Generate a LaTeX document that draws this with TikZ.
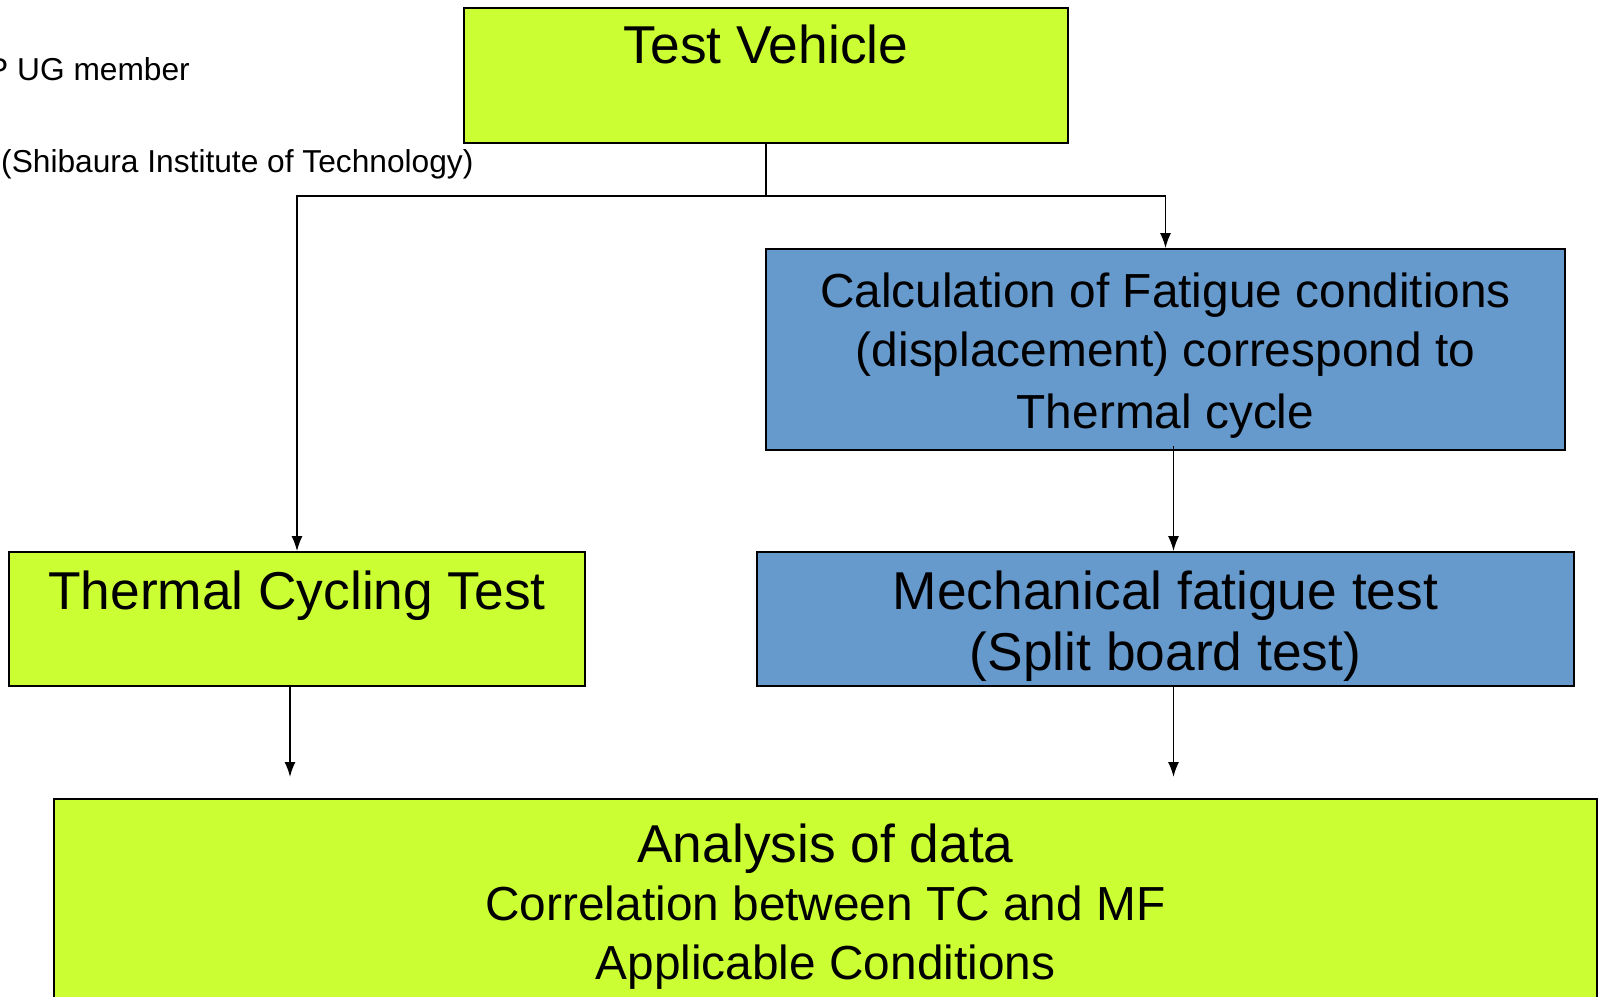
\documentclass[tikz,border=0pt]{standalone}
\usepackage{fontspec}
\setmainfont{Liberation Sans}
\usetikzlibrary{arrows.meta,calc}
\definecolor{limefill}{RGB}{204,255,51}
\definecolor{steelfill}{RGB}{102,153,204}
\begin{document}
\begin{tikzpicture}[x=1pt,y=-1pt,
  box/.style={draw=black, line width=1.8pt, rectangle, inner sep=0pt},
  link/.style={line width=1.6pt},
  conn/.style={line width=1.6pt, -{Latex[length=15pt,width=11pt]}},
  big/.style={font=\fontsize{53.3}{61}\selectfont, inner sep=0pt, anchor=base},
  mid/.style={font=\fontsize{47.8}{60}\selectfont, inner sep=0pt, anchor=base},
  note/.style={font=\fontsize{31.7}{38}\selectfont, inner sep=0pt}]
\useasboundingbox (0,0) rectangle (1603,996);
% boxes
\node[box, fill=limefill, minimum width=604pt, minimum height=135pt] (tv) at (766,75.5) {};
\node[box, fill=steelfill, minimum width=799pt, minimum height=201pt] (calc) at (1165.5,349.5) {};
\node[box, fill=limefill, minimum width=576pt, minimum height=134pt] (tc) at (297,619) {};
\node[box, fill=steelfill, minimum width=817pt, minimum height=134pt] (mech) at (1165.5,619) {};
\node[box, fill=limefill, minimum width=1543pt, minimum height=260pt] (an) at (825.5,929) {};
% texts
\node[big] (tvt) at (766,63) {Test Vehicle};
\node[mid] (c1) at (1165.5,307) {Calculation of Fatigue conditions};
\node[mid] (c2) at (1165.5,366) {(displacement) correspond to};
\node[mid] (c3) at (1165.5,428) {Thermal cycle};
\node[big] (tct) at (297,609) {Thermal Cycling Test};
\node[big] (m1) at (1165.5,609) {Mechanical fatigue test};
\node[big] (m2) at (1165.5,670) {(Split board test)};
\node[big] (a1) at (825.5,862) {Analysis of data};
\node[mid] (a2) at (825.5,920) {Correlation between TC and MF};
\node[mid] (a3) at (825.5,979) {Applicable Conditions};
\node[note, anchor=base east] (n1) at (190,80) {P UG member};
\node[note, anchor=base west] (n2) at (1,172) {(Shibaura Institute of Technology)};
% connectors
\coordinate (j) at (766,196);
\coordinate (e1) at (290,777);
\coordinate (e2) at (1173.5,777);
\draw[link] (tv.south) -- (j);
\draw[conn] (j) -| (tc.north);
\draw[conn] (j) -| (calc.north);
\draw[conn] ($(calc.south)+(8,-5)$) -- ($(mech.north)+(8,0)$);
\draw[conn] ($(tc.south)+(-7,0)$) -- (e1);
\draw[conn] ($(mech.south)+(8,0)$) -- (e2);
\end{tikzpicture}
\end{document}
